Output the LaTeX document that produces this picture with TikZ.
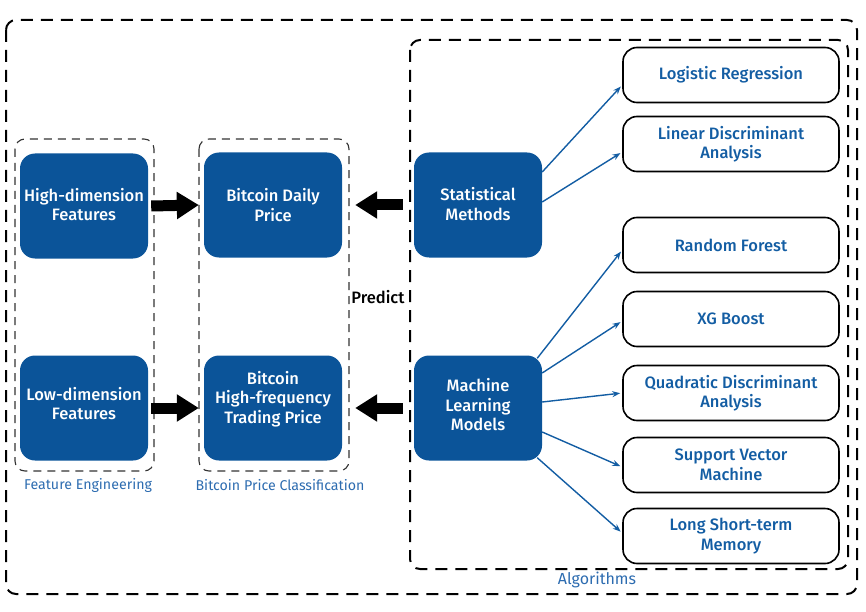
\documentclass[tikz,border=0pt]{standalone}
\usepackage{fontspec}
\setmainfont{Fira Sans}[BoldFont={Fira Sans Medium}]
\usetikzlibrary{arrows.meta}
\definecolor{dblue}{HTML}{0B5499}
\definecolor{tblue}{HTML}{135DA3}
\definecolor{lblue}{HTML}{2D6CB0}
\tikzset{
  bluebox/.style={fill=dblue, rounded corners=15pt, minimum height=105pt, inner sep=0pt},
  bluetext/.style={text=white, align=center, font=\fontsize{16.5}{19.5}\selectfont\bfseries, inner sep=0pt},
  whitebox/.style={draw=black, line width=1.6pt, rounded corners=14pt, minimum width=216pt, minimum height=55pt, text=tblue, align=center, font=\fontsize{16.5}{19.5}\selectfont\bfseries, inner sep=0pt},
  bigdash/.style={draw=black, line width=2pt, dash pattern=on 12pt off 8pt, rounded corners=10pt},
  smalldash/.style={draw=black!80, line width=1.1pt, dash pattern=on 8pt off 6pt, rounded corners=10pt},
  fatarrow/.style={line width=11pt, -{Triangle[length=22pt,width=26pt]}, shorten >=0pt},
  thinarrow/.style={draw=tblue, line width=1.4pt, -{Stealth[length=8pt,width=6pt]}, shorten >=2pt},
  grouplabel/.style={text=lblue, font=\fontsize{14.2}{16}\selectfont, inner sep=0pt}
}
\begin{document}
\begin{tikzpicture}[x=1pt,y=-1pt]
\useasboundingbox (0,0) rectangle (866,612);
% group frames
\draw[bigdash] (6,20) rectangle (857,594);
\draw[bigdash] (410,40) rectangle (848,569);
\draw[smalldash] (15,139) rectangle (154,471);
\draw[smalldash] (199,139) rectangle (349,471);
\node[grouplabel] (lfe) at (88,485) {Feature Engineering};
\node[grouplabel] (lbpc) at (280,485) {Bitcoin Price Classification};
\node[grouplabel, font=\fontsize{16}{18}\selectfont] (lalg) at (597,580) {Algorithms};
% blue boxes
\node[bluebox, minimum width=128pt] (hd) at (84,206) {};
\node[bluebox, minimum width=128pt] (ld) at (84,408) {};
\node[bluebox, minimum width=138pt] (bd) at (273,205) {};
\node[bluebox, minimum width=138pt] (bh) at (273,408) {};
\node[bluebox, minimum width=128pt] (sm) at (478,205) {};
\node[bluebox, minimum width=128pt] (ml) at (478,408) {};
\node[bluetext] (hdt) at (84,204.5) {High-dimension\\Features};
\node[bluetext] (ldt) at (84,403.5) {Low-dimension\\Features};
\node[bluetext] (bdt) at (273,205) {Bitcoin Daily\\Price};
\node[bluetext] (bht) at (273,399) {Bitcoin\\High-frequency\\Trading Price};
\node[bluetext] (smt) at (478,204) {Statistical\\Methods};
\node[bluetext] (mlt) at (478,405) {Machine\\Learning\\Models};
\node[font=\fontsize{16.5}{18}\selectfont\bfseries, inner sep=0pt] (pr) at (378,297) {Predict};
% white boxes
\node[whitebox] (lr) at (731,75) {Logistic Regression};
\node[whitebox] (lda) at (731,144) {Linear Discriminant\\Analysis};
\node[whitebox] (rf) at (731,245) {Random Forest};
\node[whitebox] (xg) at (731,319) {XG Boost};
\node[whitebox] (qda) at (731,393) {Quadratic Discriminant\\Analysis};
\node[whitebox] (svm) at (731,465) {Support Vector\\Machine};
\node[whitebox] (lstm) at (731,536) {Long Short-term\\Memory};
% fat arrows
\draw[fatarrow] ([xshift=3pt]hd.east) -- ([xshift=-5pt]bd.west);
\draw[fatarrow] ([xshift=3pt]ld.east) -- ([xshift=-5pt]bh.west);
\draw[fatarrow] ([xshift=-11pt]sm.west) -- ([xshift=13pt]bd.east);
\draw[fatarrow] ([xshift=-11pt]ml.west) -- ([xshift=13pt]bh.east);
% thin arrows
\draw[thinarrow] ([yshift=33pt]sm.east) -- ([yshift=-10pt]lr.west);
\draw[thinarrow] ([yshift=3pt]sm.east) -- ([yshift=-8pt]lda.west);
\draw[thinarrow] ([xshift=-5pt,yshift=-3pt]ml.north east) -- ([yshift=-5pt]rf.west);
\draw[thinarrow] ([yshift=35pt]ml.east) -- ([yshift=-2pt]xg.west);
\draw[thinarrow] ([yshift=6pt]ml.east) -- (qda.west);
\draw[thinarrow] ([yshift=-24pt]ml.east) -- ([yshift=-2pt]svm.west);
\draw[thinarrow] ([xshift=-5pt,yshift=3pt]ml.south east) -- ([yshift=3pt]lstm.west);
\end{tikzpicture}
\end{document}
